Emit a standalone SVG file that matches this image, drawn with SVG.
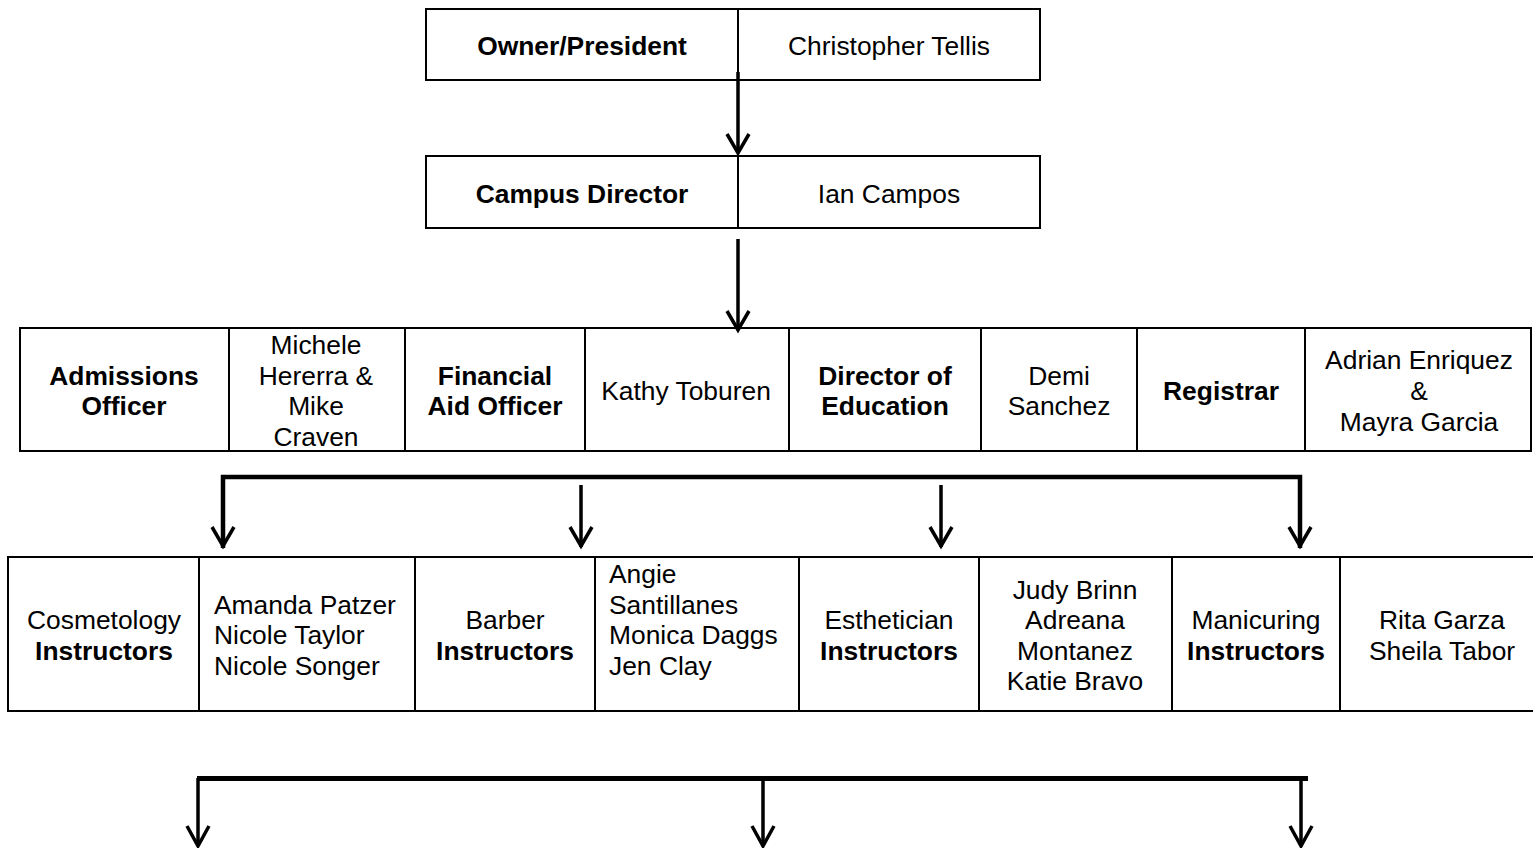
<svg xmlns="http://www.w3.org/2000/svg" width="1533" height="848" viewBox="0 0 1533 848">
<style>
.box{fill:#fff;stroke:#000;stroke-width:2}
.div{stroke:#000;stroke-width:2}
text{font-family:"Liberation Sans",Arial,sans-serif;font-size:26.4px;fill:#000}
.c{text-anchor:middle}
.b{font-weight:bold}
.ln{stroke:#000;stroke-width:3.5;fill:none}
.hl{stroke:#000;stroke-width:4.5;fill:none}
.ah{stroke:#000;stroke-width:3.5;fill:none;stroke-linejoin:miter}
</style>
<rect width="1533" height="848" fill="#fff"/>
<g id="owner">
<rect class="box" x="426" y="9" width="614" height="71"/>
<line class="div" x1="738" y1="9" x2="738" y2="80"/>
<text class="c b" x="582" y="54.5">Owner/President</text>
<text class="c" x="889" y="54.5">Christopher Tellis</text>
</g>
<g id="campus">
<rect class="box" x="426" y="156" width="614" height="72"/>
<line class="div" x1="738" y1="156" x2="738" y2="228"/>
<text class="c b" x="582" y="202.5">Campus Director</text>
<text class="c" x="889" y="202.5">Ian Campos</text>
</g>
<g id="row3">
<rect class="box" x="20" y="328" width="1511" height="123"/>
<line class="div" x1="229" y1="328" x2="229" y2="451"/>
<line class="div" x1="405" y1="328" x2="405" y2="451"/>
<line class="div" x1="585" y1="328" x2="585" y2="451"/>
<line class="div" x1="789" y1="328" x2="789" y2="451"/>
<line class="div" x1="981" y1="328" x2="981" y2="451"/>
<line class="div" x1="1137" y1="328" x2="1137" y2="451"/>
<line class="div" x1="1305" y1="328" x2="1305" y2="451"/>
<text class="c b" x="124" y="384.5">Admissions</text>
<text class="c b" x="124" y="414.5">Officer</text>
<text class="c" x="316" y="353.5">Michele</text>
<text class="c" x="316" y="384.5">Hererra &amp;</text>
<text class="c" x="316" y="414.5">Mike</text>
<text class="c" x="316" y="445.5">Craven</text>
<text class="c b" x="495" y="384.5">Financial</text>
<text class="c b" x="495" y="414.5">Aid Officer</text>
<text class="c" x="686" y="399.5">Kathy Toburen</text>
<text class="c b" x="885" y="384.5">Director of</text>
<text class="c b" x="885" y="414.5">Education</text>
<text class="c" x="1059" y="384.5">Demi</text>
<text class="c" x="1059" y="414.5">Sanchez</text>
<text class="c b" x="1221" y="399.5">Registrar</text>
<text class="c" x="1419" y="368.5">Adrian Enriquez</text>
<text class="c" x="1419" y="399.5">&amp;</text>
<text class="c" x="1419" y="430.5">Mayra Garcia</text>
</g>
<g id="row4">
<rect class="box" x="8" y="557" width="1530" height="154"/>
<line class="div" x1="199" y1="557" x2="199" y2="711"/>
<line class="div" x1="415" y1="557" x2="415" y2="711"/>
<line class="div" x1="595" y1="557" x2="595" y2="711"/>
<line class="div" x1="799" y1="557" x2="799" y2="711"/>
<line class="div" x1="979" y1="557" x2="979" y2="711"/>
<line class="div" x1="1172" y1="557" x2="1172" y2="711"/>
<line class="div" x1="1340" y1="557" x2="1340" y2="711"/>
<text class="c" x="104" y="628.5">Cosmetology</text>
<text class="c b" x="104" y="659.5">Instructors</text>
<text x="214" y="613.5">Amanda Patzer</text>
<text x="214" y="643.5">Nicole Taylor</text>
<text x="214" y="674.5">Nicole Songer</text>
<text class="c" x="505" y="628.5">Barber</text>
<text class="c b" x="505" y="659.5">Instructors</text>
<text x="609" y="582.5">Angie</text>
<text x="609" y="613.5">Santillanes</text>
<text x="609" y="643.5">Monica Daggs</text>
<text x="609" y="674.5">Jen Clay</text>
<text class="c" x="889" y="628.5">Esthetician</text>
<text class="c b" x="889" y="659.5">Instructors</text>
<text class="c" x="1075" y="598.5">Judy Brinn</text>
<text class="c" x="1075" y="628.5">Adreana</text>
<text class="c" x="1075" y="659.5">Montanez</text>
<text class="c" x="1075" y="689.5">Katie Bravo</text>
<text class="c" x="1256" y="628.5">Manicuring</text>
<text class="c b" x="1256" y="659.5">Instructors</text>
<text class="c" x="1442" y="628.5">Rita Garza</text>
<text class="c" x="1442" y="659.5">Sheila Tabor</text>
</g>
<g id="connectors">
<line class="ln" x1="738" y1="72" x2="738" y2="152"/>
<path class="ah" d="M727,134 L738,153 L749,134"/>
<line class="ln" x1="738" y1="239" x2="738" y2="329"/>
<path class="ah" d="M727,311 L738,330 L749,311"/>
<path class="hl" d="M223,548 L223,477 L1300,477 L1300,548"/>
<path class="ah" d="M212,527 L223,546 L234,527"/>
<line class="ln" x1="581" y1="485" x2="581" y2="547"/>
<path class="ah" d="M570,527 L581,546 L592,527"/>
<line class="ln" x1="941" y1="485" x2="941" y2="547"/>
<path class="ah" d="M930,527 L941,546 L952,527"/>
<path class="ah" d="M1289,527 L1300,546 L1311,527"/>
<line x1="197" y1="778.5" x2="1308" y2="778.5" stroke="#000" stroke-width="5"/>
<line class="ln" x1="198" y1="778" x2="198" y2="845"/>
<line class="ln" x1="763" y1="778" x2="763" y2="845"/>
<line class="ln" x1="1301" y1="778" x2="1301" y2="845"/>
<path class="ah" d="M187,826 L198,846 L209,826"/>
<path class="ah" d="M752,826 L763,846 L774,826"/>
<path class="ah" d="M1290,826 L1301,846 L1312,826"/>
</g>
</svg>
